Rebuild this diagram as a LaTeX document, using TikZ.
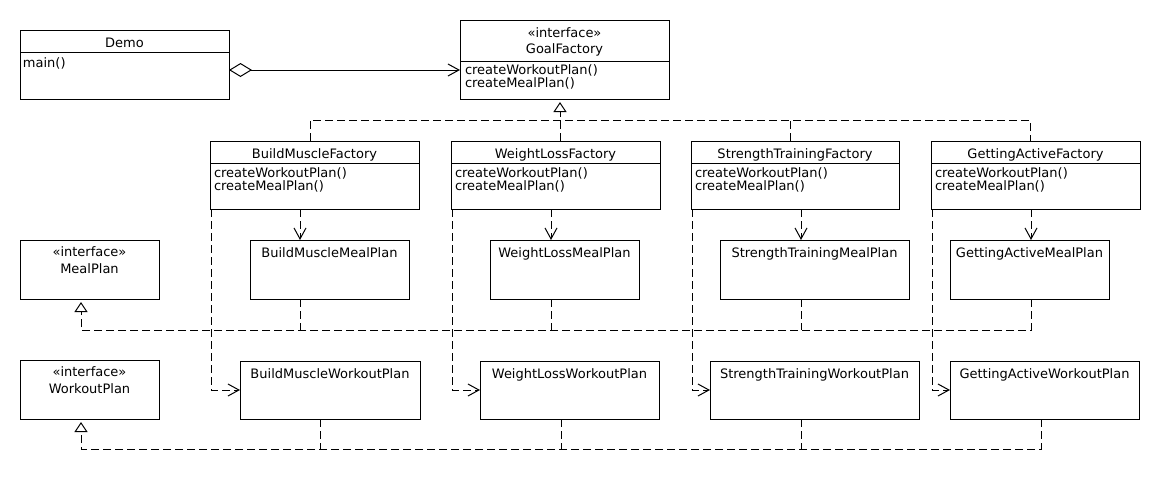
\documentclass[tikz,border=0pt]{standalone}
\usepackage{fontspec}
\setmainfont{DejaVu Sans}
\usetikzlibrary{arrows.meta}
\begin{document}
\begin{tikzpicture}[x=1pt,y=-1pt,
  cls/.style={draw, line width=1pt, rectangle, inner sep=0pt, outer sep=0pt, anchor=north west},
  ln/.style={line width=1pt},
  txt/.style={inner sep=0pt, outer sep=0pt, font=\fontsize{13}{13}\selectfont},
  ttl/.style={txt, anchor=base},
  opl/.style={txt, anchor=base west},
  dsh/.style={line width=1pt, dash pattern=on 8pt off 4pt},
  dep/.style={dsh, -{Straight Barb[length=11pt, width=12pt, line width=1pt]}},
  real/.style={dsh, shorten >=3pt, -{Triangle[open, length=10pt, width=13pt, line width=1pt, fill=white]}},
  agg/.style={ln, {Diamond[open, length=23pt, width=14pt, line width=1pt]}-{Straight Barb[length=11pt, width=12pt, line width=1pt]}}
]
\fill[white] (0,0) rectangle (1160,490);
\useasboundingbox (0,0) rectangle (1160,490);

% ---------- Demo ----------
\node[cls, minimum width=209pt, minimum height=69pt] (demo) at (20,30) {};
\draw[ln] ([yshift=-22pt]demo.north west) -- ([yshift=-22pt]demo.north east);
\node[ttl] (demoT) at (124.5,47.5) {Demo};
\node[opl] (demoO) at (23,67) {main()};

% ---------- GoalFactory ----------
\node[cls, minimum width=209pt, minimum height=79pt] (gf) at (460,20) {};
\draw[ln] ([yshift=-41pt]gf.north west) -- ([yshift=-41pt]gf.north east);
\node[ttl] (gfS) at (564.5,37.5) {«interface»};
\node[ttl] (gfT) at (564.5,53.5) {GoalFactory};
\node[opl] (gfO1) at (465,74.5) {createWorkoutPlan()};
\node[opl] (gfO2) at (465,87.5) {createMealPlan()};

% ---------- Factories ----------
\node[cls, minimum width=209pt, minimum height=68pt] (bmf) at (210,141) {};
\node[cls, minimum width=209pt, minimum height=68pt] (wlf) at (451,141) {};
\node[cls, minimum width=208pt, minimum height=68pt] (stf) at (691,141) {};
\node[cls, minimum width=209pt, minimum height=68pt] (gaf) at (931,141) {};
\foreach \f in {bmf,wlf,stf,gaf}{
  \draw[ln] ([yshift=-22pt]\f.north west) -- ([yshift=-22pt]\f.north east);
}
\node[ttl] (bmfT) at (314.5,158.5) {BuildMuscleFactory};
\node[ttl] (wlfT) at (555.5,158.5) {WeightLossFactory};
\node[ttl] (stfT) at (795,158.5) {StrengthTrainingFactory};
\node[ttl] (gafT) at (1035.5,158.5) {GettingActiveFactory};
\node[opl] (bmfO1) at (214,177) {createWorkoutPlan()};
\node[opl] (bmfO2) at (214,190) {createMealPlan()};
\node[opl] (wlfO1) at (455,177) {createWorkoutPlan()};
\node[opl] (wlfO2) at (455,190) {createMealPlan()};
\node[opl] (stfO1) at (695,177) {createWorkoutPlan()};
\node[opl] (stfO2) at (695,190) {createMealPlan()};
\node[opl] (gafO1) at (935,177) {createWorkoutPlan()};
\node[opl] (gafO2) at (935,190) {createMealPlan()};

% ---------- Interfaces ----------
\node[cls, minimum width=139pt, minimum height=59pt] (mp) at (20,240) {};
\node[ttl] (mpS) at (89.5,256.5) {«interface»};
\node[ttl] (mpT) at (89.5,273) {MealPlan};
\node[cls, minimum width=139pt, minimum height=59pt] (wp) at (20,360) {};
\node[ttl] (wpS) at (89.5,376.5) {«interface»};
\node[ttl] (wpT) at (89.5,393) {WorkoutPlan};

% ---------- Meal plans ----------
\node[cls, minimum width=159pt, minimum height=59pt] (bmm) at (250,240) {};
\node[cls, minimum width=149pt, minimum height=59pt] (wlm) at (490,240) {};
\node[cls, minimum width=189pt, minimum height=59pt] (stm) at (720,240) {};
\node[cls, minimum width=159pt, minimum height=59pt] (gam) at (950,240) {};
\node[ttl] (bmmT) at (329.5,257.5) {BuildMuscleMealPlan};
\node[ttl] (wlmT) at (564.5,257.5) {WeightLossMealPlan};
\node[ttl] (stmT) at (814.5,257.5) {StrengthTrainingMealPlan};
\node[ttl] (gamT) at (1029.5,257.5) {GettingActiveMealPlan};

% ---------- Workout plans ----------
\node[cls, minimum width=180pt, minimum height=58pt] (bmw) at (240,361) {};
\node[cls, minimum width=179pt, minimum height=58pt] (wlw) at (480,361) {};
\node[cls, minimum width=209pt, minimum height=58pt] (stw) at (710,361) {};
\node[cls, minimum width=189pt, minimum height=58pt] (gaw) at (950,361) {};
\node[ttl] (bmwT) at (330,378) {BuildMuscleWorkoutPlan};
\node[ttl] (wlwT) at (569.5,378) {WeightLossWorkoutPlan};
\node[ttl] (stwT) at (814.5,378) {StrengthTrainingWorkoutPlan};
\node[ttl] (gawT) at (1044.5,378) {GettingActiveWorkoutPlan};

% ---------- helper coordinates ----------
\coordinate (aggy) at (0,70);
\coordinate (r1) at (310,120);
\coordinate (r2) at (560,120);
\coordinate (r3) at (790,120);
\coordinate (r4) at (1030,120);
\coordinate (m1) at (300,0);
\coordinate (m2) at (551,0);
\coordinate (m3) at (801,0);
\coordinate (m4) at (1031,0);
\coordinate (mj) at (81,330);
\coordinate (w1) at (320,0);
\coordinate (w2) at (561,0);
\coordinate (w3) at (801,0);
\coordinate (w4) at (1041,0);
\coordinate (wj) at (81,449);

% ---------- Aggregation ----------
\draw[agg] (demo.east |- aggy) -- (gf.west |- aggy);

% ---------- Factories realize GoalFactory ----------
\draw[dsh] (bmf.north -| r1) -- (r1) -- (r4) -- (gaf.north -| r4);
\draw[dsh] (stf.north -| r3) -- (r3);
\draw[real] (wlf.north -| r2) -- (gf.south -| r2);

% ---------- Factories create meal plans ----------
\draw[dep] (bmf.south -| m1) -- (bmm.north -| m1);
\draw[dep] (wlf.south -| m2) -- (wlm.north -| m2);
\draw[dep] (stf.south -| m3) -- (stm.north -| m3);
\draw[dep] (gaf.south -| m4) -- (gam.north -| m4);

% ---------- Factories create workout plans ----------
\draw[dep] ([xshift=1pt]bmf.south west) |- (bmw.west);
\draw[dep] ([xshift=1pt]wlf.south west) |- (wlw.west);
\draw[dep] ([xshift=1pt]stf.south west) |- (stw.west);
\draw[dep] ([xshift=1pt]gaf.south west) |- (gaw.west);

% ---------- Meal plans realize MealPlan ----------
\draw[dsh] (bmm.south -| m1) -- (m1 |- mj);
\draw[dsh] (wlm.south -| m2) -- (m2 |- mj);
\draw[dsh] (stm.south -| m3) -- (m3 |- mj);
\draw[real] (gam.south -| m4) -- (m4 |- mj) -- (mj) -- (mp.south -| mj);

% ---------- Workout plans realize WorkoutPlan ----------
\draw[dsh] (bmw.south -| w1) -- (w1 |- wj);
\draw[dsh] (wlw.south -| w2) -- (w2 |- wj);
\draw[dsh] (stw.south -| w3) -- (w3 |- wj);
\draw[real] (gaw.south -| w4) -- (w4 |- wj) -- (wj) -- (wp.south -| wj);
\end{tikzpicture}
\end{document}
